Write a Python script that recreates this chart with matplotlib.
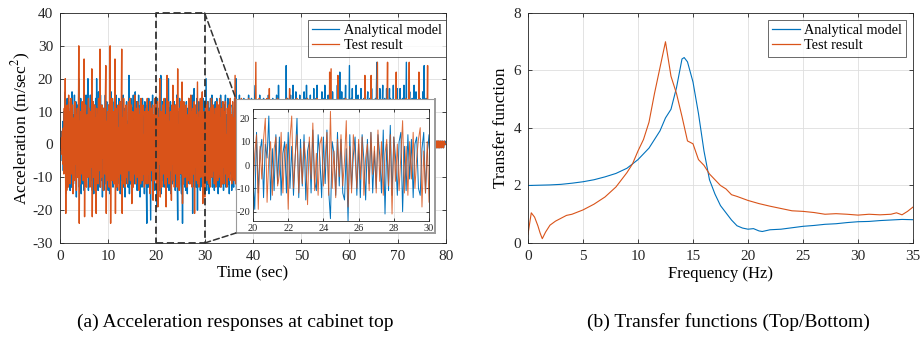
import numpy as np
import matplotlib.pyplot as plt
from matplotlib.patches import ConnectionPatch

plt.rcParams["font.family"] = ["Liberation Serif", "DejaVu Serif"]
plt.rcParams["mathtext.fontset"] = "stix"
plt.rcParams["axes.unicode_minus"] = False

# (a) acceleration time histories, sampled every 0.1 s from 0 to 80 s
dt = 0.1
acc_test = [
    0, 1, -1, 2, -3, 4, -6, 5, -9, 11, -8, 20, -21, 9, -14, 12, 4, -13, 15, -7,
    10, -12, 3, 14, -9, -4, 12, -15, 8, 2, -11, 13, -6, 9, -14, 5, 11, -10, -3, 30,
    -24, 7, -12, 10, 4, -9, 13, -5, -11, 8, 26, -22, 6, 12, -8, -13, 9, 3, -10, 14,
    -6, 11, -13, 2, 10, -7, 23, -22, 5, 13, -10, -2, 12, -14, 8, -21, 11, -5, 9, -12,
    14, -8, 3, 29, -13, 6, -10, 12, -4, 9, -14, 11, 2, -9, 13, 24, -21, 7, -11, 10,
    -5, 12, -13, 8, 30, -24, 4, -9, 14, -11, 6, 10, -12, 3, 26, -21, 11, -7, -13, 9,
    12, -10, 5, -14, 13, 2, -9, 11, 29, -21, 8, -12, 14, -6, 10, -13, 3, 12, -10, 6,
    -12, 9, 13, -8, -3, 14, -11, 6, 12, -18, 4, 10, -13, 7, -9, 15, -5, -12, 11, 2,
    -10, 13, -7, 11, -14, 5, 9, -12, 14, -3, -11, 8, 12, -9, 3, -13, 10, 6, -12, 11,
    -7, 14, -12, 4, 10, -9, 13, -15, 6, 11, -8, -3, 12, -17, 9, 2, -11, 14, -6, 10,
    -12, 5, 13, -19, 8, -6, 11, 20, -16, 3, 10, -13, 7, 12, -9, -4, 14, -12, 6, 9,
    -19, 11, 21, -10, 4, 13, -12, 7, -8, 10, 2, -17, 12, -6, 18, -11, 5, -13, 9, 12,
    -9, 3, 14, -13, 23, -10, 6, -14, 11, -5, 13, -9, 2, 19, -18, 8, -12, 13, 4, -10,
    11, -6, 12, -13, 3, 9, -11, 14, -4, 8, -12, 15, -7, 10, -13, 5, 11, -9, 13, -21,
    12, -7, 9, -11, 4, 19, -12, 8, -13, 10, -6, 14, -10, 3, 11, 16, -18, 6, -12, 10,
    -16, 9, -4, 12, -11, 6, 13, -9, -12, 10, 3, -13, 11, -7, 14, -10, 5, 12, -8, 9,
    -12, 4, 11, -13, 7, 13, -6, -11, 12, 2, -10, 14, -9, 8, -13, 11, 5, -12, 13, -7,
    10, -12, 6, 13, -9, 3, -13, 11, 7, -10, 12, -5, -11, 14, -8, 9, -12, 4, 13, -10,
    8, -11, 5, 21, -12, 9, -7, 13, -10, 4, 12, -13, 6, 11, -9, -4, 14, -12, 7, 10,
    -13, 6, 12, -9, 3, -12, 13, -7, 10, -11, 5, 14, -10, 2, -13, 11, 8, -12, 12, -5,
    -11, 13, -4, 9, -12, 7, 25, -12, 5, 11, -13, 8, -6, 14, -10, 3, 12, -11, 9, -8,
    13, -12, 4, 10, -9, 12, -13, 6, -7, 14, -11, 3, 12, -10, 17, -13, 8, -5, 11, -12,
    9, -10, 13, -6, 4, -13, 12, -8, 11, 2, -12, 14, -9, 7, 13, -11, -3, 10, -13, 8,
    12, -9, 5, -12, 11, -4, 13, -11, 8, -7, 14, -12, 3, 10, -13, 9, 17, -12, 6, -10,
    11, -13, 12, -5, 9, -10, 4, 13, -12, 7, -9, 14, -11, 2, 12, -13, 8, -6, 11, -10,
    13, -7, 10, -12, 3, 12, -11, 9, -4, -13, 11, 6, -10, 14, -8, 12, -13, 5, 10, -9,
    -12, 11, 4, -10, 13, -8, 9, -13, 12, 3, -11, 10, -6, 14, -12, 7, -9, 12, -4, 11,
    -13, 8, 10, -11, 5, 12, -9, 13, -12, 6, -4, 11, -13, 9, 13, -10, 2, 12, -11, 22,
    -10, 7, 23, -13, 9, -6, 12, -11, 4, 13, -9, 10, -12, 5, 11, -13, 21, -10, 8, -7,
    12, -11, 6, -13, 10, 3, -9, 13, -12, 8, -5, 11, 14, -10, 4, -12, 9, 12, -13, 7,
    -8, 13, -11, 5, 12, -10, 9, -13, 3, 11, -12, 7, 13, -9, 10, -11, 4, -13, 12, 6,
    -11, 12, -7, 10, -13, 4, 13, -10, 8, -12, 11, -5, 21, -12, 9, -11, 6, 13, -9, -4,
    12, -13, 8, -10, 11, 21, -12, 5, -9, 13, -11, 7, 10, -13, 3, 12, -10, 9, 25, -12,
    8, -11, 13, -6, 10, -12, 4, 11, -13, 9, -7, 12, -10, 3, 13, -11, 8, -12, 10, 25,
    -13, 6, 12, -10, 9, -4, 13, -12, 7, 11, -9, -13, 10, 5, -11, 12, -8, 22, -12, 9,
    -10, 13, -7, 11, -12, 4, 12, -13, 9, -5, 10, 13, -11, 6, -12, 9, -9, 14, -10, 7,
    -12, 11, -6, 9, 25, -13, 12, -8, 10, -11, 5, 13, -12, 7, -10, 12, 3, -13, 11, -9,
    10, -12, 13, -5, 22, -11, 9, -13, 12, -7, 11, -10, 4, 13, -12, 8, -9, 12, -11, 10,
    -13, 9, 24, -12, 10, -8, 6, -5, 4, -3, 2, -2, 1, -1, 1, -1, 1, -1, 1, -1,
    1, -1, 1, -1, 1, -1, 1, -1, 1, -1, 0, 1, -1, 0, 1, -1, 0, 1, 0, 0,
]
acc_model = [
    0, -1, 2, -2, 4, -5, 7, -8, 10, -6, 12, 16, -15, 5, -11, 14, -9, 3, 13, -12,
    8, -14, 11, 2, -13, 16, -7, 9, -12, 4, 15, -10, -5, 13, -16, 7, 12, -9, 3, 20,
    -13, 10, -6, 14, -15, 3, 11, -12, 8, -4, -14, 12, 6, -11, 15, -9, 2, 13, 20, -14,
    9, -12, 5, 15, -11, -3, 13, -14, 7, 10, -15, 4, 12, -8, 14, -13, 20, -6, 11, -14,
    16, -9, 4, -13, 15, -11, 7, 12, -16, 3, 11, -14, 9, -5, 15, -12, 6, 13, -11, 8,
    -14, 12, 5, -15, 10, -8, 16, -11, 3, 13, -13, 7, -9, 14, -4, -12, 15, -10, 9, -14,
    11, -6, 14, -12, 8, -15, 13, 2, -11, 12, -9, 15, -13, 6, 11, -16, 9, -5, 13, -12,
    7, -13, 10, 21, -15, 5, -12, 14, -8, 11, -14, 3, 15, -11, 8, -12, 16, -9, 4, 13,
    -14, 10, -6, 15, -12, 8, -16, 12, -4, 11, -13, 14, 6, -11, 9, -15, 13, -7, 10, -12,
    -24, 12, 5, -13, 14, -9, 11, -6, -23, 13, -11, 8, 15, -12, 4, -14, 12, 9, -10, 13,
    -7, -19, 14, -12, 6, 11, -14, 9, 3, 21, -15, 7, -11, 13, -8, 12, -13, 5, 10, -12,
    14, -10, 8, -13, 4, 20, -14, 11, -9, 13, -15, 6, 10, -12, 15, -7, -11, 13, 3, -14,
    12, -8, 15, -11, -23, 10, 5, -13, 14, -9, 11, -12, -15, 7, -24, 13, -10, 4, 12, -13,
    9, -14, 13, 2, -15, 11, -8, 14, -12, 6, -10, 13, 4, -12, 15, -21, 9, -11, 17, -13,
    12, 3, -13, 10, 14, -20, 8, -11, 13, -6, 11, -14, 9, 12, -10, -13, 7, 14, -12, 5,
    13, -11, 6, 20, -14, 9, -12, 13, 4, -15, 11, -8, 14, -10, 6, 15, -13, 9, -11, 12,
    -14, 8, 13, -11, 5, 14, -12, 10, -15, 7, 12, -9, -13, 15, -6, 11, -12, 13, 3, -14,
    12, -10, 7, 15, -13, 9, -11, 4, 14, -12, 10, -15, 8, 13, -9, 5, -14, 12, 11, -10,
    -13, 6, 14, -11, 9, 20, -14, 7, -10, 13, -12, 5, 15, -13, 8, -9, 12, -14, 10, 11,
    -12, 14, -7, 10, -15, 12, 3, -11, 13, -14, 9, 15, -10, 6, -13, 12, -9, 14, -11, 7,
    -13, 11, 8, -12, 14, 18, -10, 6, -14, 12, 9, -11, 13, -7, 15, -13, 10, -9, 12, -14,
    9, -12, 14, -6, 11, 13, -15, 7, -10, 12, -13, 4, 15, -11, 9, -14, 12, 6, -13, 10,
    -11, 14, -9, 12, 5, -14, 13, -10, 8, 15, -12, 11, -13, 18, -7, 10, -14, 12, 4, -11,
    13, -10, 9, -14, 12, 6, -13, 11, -9, 24, -12, 8, 14, -11, 5, -13, 12, -10, 15, -8,
    -12, 10, -14, 18, -9, 12, 4, -13, 11, 16, -10, 7, -14, 13, -6, 12, -11, 15, -13, 9,
    -14, 12, 7, -11, 13, -9, 16, -12, 5, 14, -13, 18, -8, 11, -14, 9, 12, -10, 6, 15,
    -12, 9, -14, 13, 6, -11, 17, -10, 12, -13, 8, 14, -9, 18, -12, 11, -14, 7, 13, -10,
    11, -13, 9, 16, -12, 14, -7, 10, -13, 18, -9, 12, -14, 6, 11, -12, 15, -10, 8, 13,
    -11, 14, -9, 12, -13, 16, 5, -12, 11, -14, 9, 13, -10, 7, -12, 18, -13, 11, 6, -14,
    22, -12, 10, -14, 16, -9, 13, -11, 6, 14, -13, 8, 18, -10, 12, -14, 9, 11, -12, 7,
    24, -13, 11, -9, 14, -12, 17, -10, 8, 13, -14, 6, 12, -11, 18, -13, 9, -8, 15, -12,
    10, -14, 13, 5, 17, -11, 12, -13, 9, -10, 14, -12, 18, -9, 11, -14, 7, 13, 16, -11,
    12, -9, 14, -13, 8, -12, 17, -10, 11, 6, -14, 13, -11, 9, 14, -12, 17, 25, -13, 10,
    -12, 11, -14, 17, -9, 13, 5, -11, 12, 18, -13, 10, -8, 14, -12, 9, -14, 17, -10, 12,
    -13, 10, 8, 17, -12, 14, -11, 6, -13, 12, -9, 18, -10, 13, -14, 11, 7, -12, 9, 17,
    -11, 13, -12, 9, -14, 17, -10, 12, 6, -13, 14, -9, 11, 18, -12, 10, -13, 8, 25, -12,
    13, -11, 9, -14, 12, 16, -10, 13, -12, 7, 14, -13, 10, -9, 18, -12, 11, -14, 16, -10,
    12, -13, 9, -11, 17, -12, 14, -10, 8, -14, 13, 6, 16, -12, 11, 24, -13, 10, -12, 14,
    -12, 10, -13, 12, -9, 11, -8, 7, -5, 4, -2, 1, -1, 1, -1, 0, 1, -1, 0, 1,
    0, -1, 1, 0, -1, 1, 0, -1, 0, 1, 0, -1, 0, 1, 0, -1, 0, 0, 1, 0,
]

# (b) transfer functions
freq_model = [0, 1, 2, 3, 4, 5, 6, 7, 8, 9, 10, 11, 12, 12.5, 13, 13.5, 14, 14.2,
              14.5, 15, 15.5, 16, 16.5, 17, 17.5, 18, 18.5, 19, 19.5, 20, 20.5, 21,
              21.3, 22, 23, 24, 25, 26, 27, 28, 29, 30, 31, 32, 33, 34, 35]
tf_model = [2.0, 2.01, 2.02, 2.04, 2.08, 2.13, 2.2, 2.3, 2.42, 2.6, 2.9, 3.3, 3.9,
            4.35, 4.65, 5.4, 6.4, 6.45, 6.3, 5.6, 4.5, 3.2, 2.2, 1.7, 1.3, 1.05,
            0.8, 0.6, 0.52, 0.48, 0.5, 0.42, 0.4, 0.46, 0.48, 0.53, 0.58, 0.61,
            0.65, 0.67, 0.71, 0.74, 0.75, 0.78, 0.8, 0.82, 0.81]
freq_test = [0, 0.3, 0.6, 0.9, 1.1, 1.3, 1.6, 2, 2.5, 3, 3.5, 4, 5, 6, 7, 8, 9,
             9.5, 10, 10.5, 11, 11.5, 12, 12.5, 13, 13.5, 14, 14.5, 15, 15.5, 16,
             16.5, 17, 17.5, 18, 18.5, 19, 20, 21, 22, 23, 24, 25, 26, 27, 28, 29,
             30, 31, 32, 33, 33.5, 34, 34.5, 35]
tf_test = [0.3, 1.05, 0.9, 0.6, 0.35, 0.15, 0.38, 0.62, 0.76, 0.86, 0.96, 1.0,
           1.15, 1.35, 1.6, 1.95, 2.45, 2.75, 3.2, 3.6, 4.2, 5.2, 6.1, 7.0, 5.8,
           5.2, 4.4, 3.55, 3.45, 2.9, 2.7, 2.4, 2.2, 2.0, 1.88, 1.68, 1.62, 1.48,
           1.37, 1.28, 1.2, 1.12, 1.1, 1.06, 1.0, 1.02, 1.0, 0.97, 1.0, 0.98, 1.0,
           1.05, 0.98, 1.1, 1.25]

blue = "#0072BD"
orange = "#D95319"
labels = ["Analytical model", "Test result"]

t_test = np.arange(len(acc_test)) * dt
t_model = np.arange(len(acc_model)) * dt

fig = plt.figure(figsize=(9.24, 3.4), dpi=100)
ax1 = fig.add_axes([0.0649, 0.2853, 0.4177, 0.6765])
ax2 = fig.add_axes([0.5714, 0.2853, 0.4167, 0.6765])


def style(ax, size, pad=5):
    ax.tick_params(direction="in", top=True, right=True, labelsize=size,
                   length=3, width=0.6, colors="#262626", pad=pad)
    ax.grid(True, color="#dedede", lw=0.6)
    ax.set_axisbelow(True)
    for s in ax.spines.values():
        s.set_color("#262626")
        s.set_linewidth(0.6)


def legend(ax, x):
    leg = ax.legend(loc="upper right", bbox_to_anchor=(x, 0.97), fontsize=10.3,
                    frameon=True, fancybox=False, edgecolor="#262626",
                    handlelength=1.9, borderpad=0.3, labelspacing=0.15,
                    handletextpad=0.3, borderaxespad=0)
    leg.get_frame().set_linewidth(0.6)
    for line in leg.get_lines():
        line.set_linewidth(0.9)


# Left panel
ax1.plot(t_model, acc_model, color=blue, lw=1.0, label=labels[0])
ax1.plot(t_test, acc_test, color=orange, lw=1.0, label=labels[1])
ax1.set_xlim(0, 80)
ax1.set_ylim(-30, 40)
ax1.set_xticks(range(0, 81, 10))
ax1.set_yticks(range(-30, 41, 10))
style(ax1, 11)
ax1.set_xlabel("Time (sec)", fontsize=12, labelpad=2)
ax1.set_ylabel("Acceleration (m/sec$^2$)", fontsize=12.5, labelpad=0)
legend(ax1, 1.0)

# zoom box on the main plot
ax1.plot([20, 30, 30, 20, 20], [-30, -30, 40, 40, -30], color="#333333",
         ls=(0, (4, 2)), lw=1.3, clip_on=False, zorder=5)

# inset frame and inset axes
box = fig.add_axes([0.2554, 0.3147, 0.2154, 0.394])
box.set_xticks([])
box.set_yticks([])
box.set_facecolor("white")
for s in box.spines.values():
    s.set_color("#9a9a9a")
    s.set_linewidth(0.8)
box.spines["bottom"].set_linewidth(1.4)
box.spines["right"].set_linewidth(1.4)

ins = fig.add_axes([0.2738, 0.35, 0.1905, 0.3294])
ins.plot(t_model, acc_model, color=blue, lw=0.7)
ins.plot(t_test, acc_test, color=orange, lw=0.7, alpha=0.85)
ins.set_xlim(20, 30)
ins.set_ylim(-24, 24)
ins.set_xticks(range(20, 31, 2))
ins.set_yticks([-20, -10, 0, 10, 20])
style(ins, 7.5, pad=2)
ins.tick_params(length=2)

for yA, yB in [(40, 1), (-30, 0)]:
    con = ConnectionPatch(xyA=(30, yA), coordsA=ax1.transData,
                          xyB=(0, yB), coordsB=box.transAxes,
                          color="#333333", ls=(0, (4, 2)), lw=1.1)
    fig.add_artist(con)

# Right panel
ax2.plot(freq_model, tf_model, color=blue, lw=0.8, label=labels[0])
ax2.plot(freq_test, tf_test, color=orange, lw=0.8, label=labels[1])
ax2.set_xlim(0, 35)
ax2.set_ylim(0, 8)
ax2.set_xticks(range(0, 36, 5))
ax2.set_yticks(range(0, 9, 2))
style(ax2, 11)
ax2.set_xlabel("Frequency (Hz)", fontsize=12, labelpad=2)
ax2.set_ylabel("Transfer function", fontsize=12.5, labelpad=3)
legend(ax2, 0.982)

fig.text(0.255, 0.053, "(a) Acceleration responses at cabinet top",
         ha="center", va="center", fontsize=14)
fig.text(0.788, 0.053, "(b) Transfer functions (Top/Bottom)",
         ha="center", va="center", fontsize=14)

fig.savefig("out.png", dpi=100)
